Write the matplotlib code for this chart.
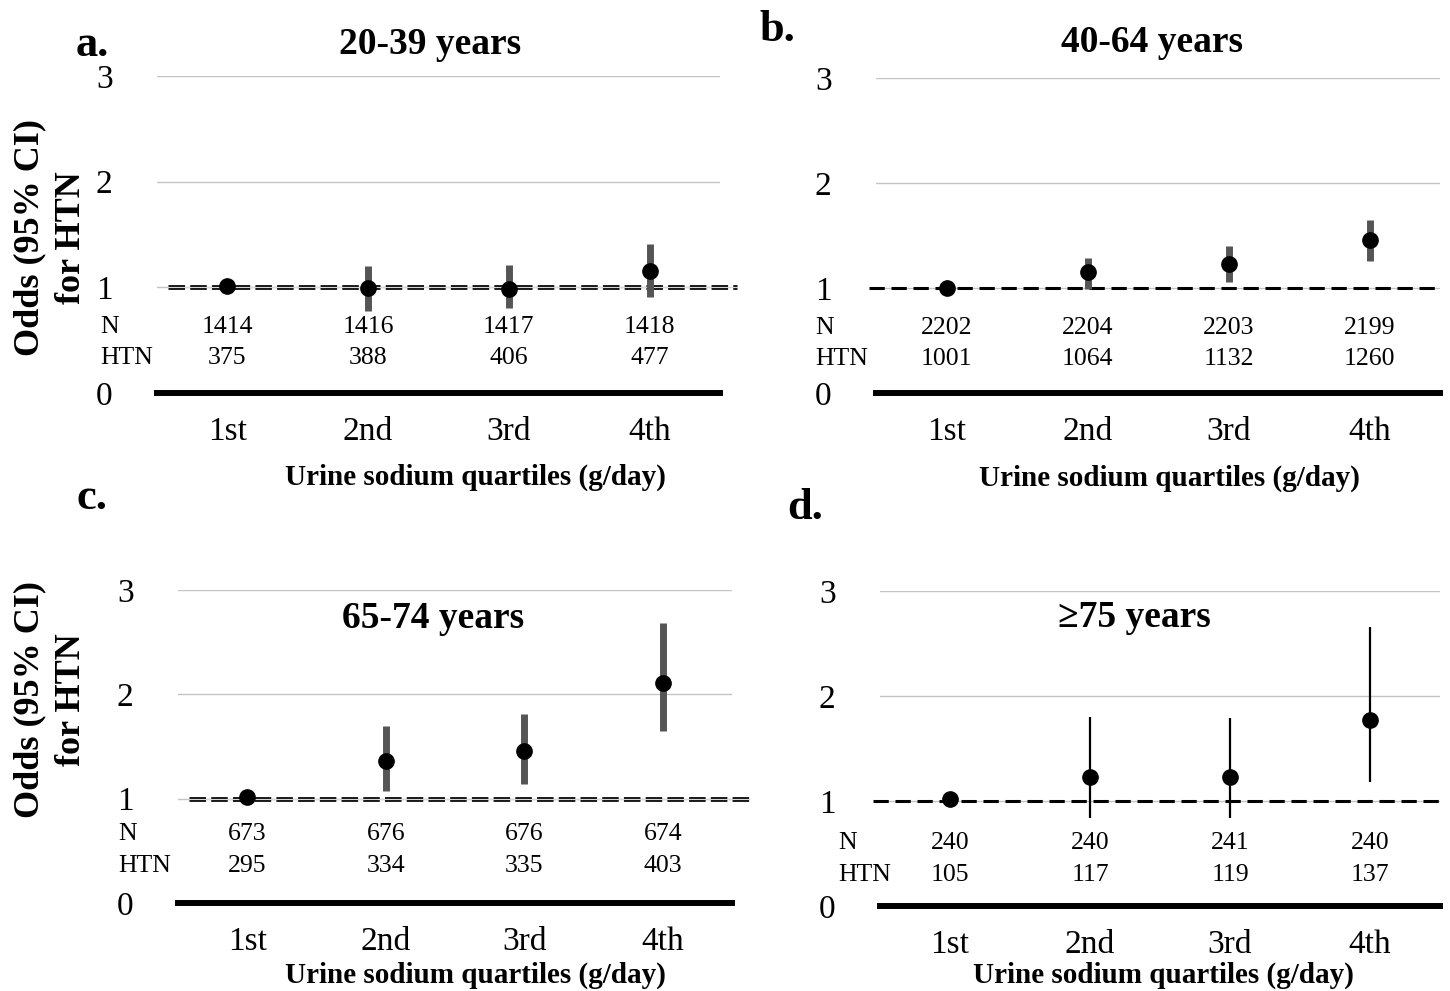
import numpy as np
import matplotlib
matplotlib.use('Agg')
import matplotlib.pyplot as plt
import matplotlib.transforms as mtransforms

plt.rcParams['font.family'] = ['Liberation Serif', 'DejaVu Serif']

quartiles = ['1st', '2nd', '3rd', '4th']

titles = ['20-39 years', '40-64 years', '65-74 years', '\u226575 years']
letters = ['a.', 'b.', 'c.', 'd.']

# odds ratio, lower and upper 95% CI per age group
or_a = [1.01, 0.99, 0.98, 1.15]
lo_a = [1.01, 0.78, 0.80, 0.91]
hi_a = [1.01, 1.20, 1.21, 1.41]

or_b = [1.00, 1.15, 1.23, 1.46]
lo_b = [1.00, 0.99, 1.06, 1.26]
hi_b = [1.00, 1.29, 1.40, 1.65]

or_c = [1.02, 1.36, 1.46, 2.11]
lo_c = [1.02, 1.07, 1.14, 1.65]
hi_c = [1.02, 1.70, 1.81, 2.68]

or_d = [1.02, 1.23, 1.23, 1.77]
lo_d = [1.02, 0.84, 0.84, 1.18]
hi_d = [1.02, 1.80, 1.79, 2.66]

n_a = [1414, 1416, 1417, 1418]
htn_a = [375, 388, 406, 477]
n_b = [2202, 2204, 2203, 2199]
htn_b = [1001, 1064, 1132, 1260]
n_c = [673, 676, 676, 674]
htn_c = [295, 334, 335, 403]
n_d = [240, 240, 241, 240]
htn_d = [105, 117, 119, 137]

W, H = 1450, 991
fig = plt.figure(figsize=(W / 100, H / 100), dpi=100)

def px_axes(l, r, top, bot):
    return fig.add_axes([l / W, 1 - bot / H, (r - l) / W, (bot - top) / H])

panels = [
    dict(box=(157, 720, 76, 393), ors=or_a, lo=lo_a, hi=hi_a, n=n_a, htn=htn_a,
         double=True, ecol='#555555', elw=5, title_xy=(0.485, 3.30), nx=-0.101,
         ny=(0.626, 0.332), xl=(0.565, -0.265), letter=(92, 45)),
    dict(box=(876, 1440, 78, 393), ors=or_b, lo=lo_b, hi=hi_b, n=n_b, htn=htn_b,
         double=False, ecol='#555555', elw=5, title_xy=(0.49, 3.34), nx=-0.108,
         ny=(0.62, 0.32), xl=(0.52, -0.27), letter=(777, 30)),
    dict(box=(178, 732, 590, 903), ors=or_c, lo=lo_c, hi=hi_c, n=n_c, htn=htn_c,
         double=True, ecol='#555555', elw=5, title_xy=(0.46, 2.73), nx=-0.108,
         ny=(0.66, 0.355), xl=(0.536, -0.23), letter=(92, 498)),
    dict(box=(880, 1440, 591, 906), ors=or_d, lo=lo_d, hi=hi_d, n=n_d, htn=htn_d,
         double=False, ecol='black', elw=1.6, title_xy=(0.455, 2.75), nx=-0.075,
         ny=(0.60, 0.295), xl=(0.507, -0.22), letter=(805, 508)),
]

x = np.arange(1, 5)
for i, p in enumerate(panels):
    ax = px_axes(*p['box'])
    ax.set_xlim(0.5, 4.5)
    ax.set_ylim(0, 3)
    for y in [1, 2, 3]:
        ax.axhline(y, color='#c4c4c4', lw=1, zorder=0)
    if p['double']:
        ax.plot([0.58, 4.62], [1, 1], color='black', lw=3.4, dashes=(3.5, 1.1),
                zorder=1, clip_on=False, solid_capstyle='butt')
        ax.plot([0.58, 4.62], [1, 1], color='#d8d8d8', lw=0.9, zorder=1.5, clip_on=False)
    else:
        ax.plot([0.45, 4.5], [1, 1], color='black', lw=2.2, dashes=(5, 2.2),
                zorder=1, clip_on=False)
    ors = np.array(p['ors'])
    err = np.array([ors - np.array(p['lo']), np.array(p['hi']) - ors])
    ax.errorbar(x, ors, yerr=err, fmt='none', ecolor=p['ecol'], elinewidth=p['elw'],
                capsize=0, zorder=2)
    ax.plot(x, ors, 'o', color='black', ms=11, zorder=3)

    for s in ['top', 'left', 'right']:
        ax.spines[s].set_visible(False)
    ax.spines['bottom'].set_linewidth(4.3)
    ax.set_yticks([0, 1, 2, 3])
    ax.set_xticks(x)
    ax.set_xticklabels(quartiles)
    ax.tick_params(axis='both', length=0, labelsize=24)
    ax.tick_params(axis='y', pad=32)
    ax.tick_params(axis='x', pad=17)

    ax.set_xlabel('Urine sodium quartiles (g/day)', fontsize=21, fontweight='bold')
    ax.xaxis.label.set_va('center')
    ax.xaxis.set_label_coords(*p['xl'])

    tr = mtransforms.blended_transform_factory(ax.transAxes, ax.transData)
    tx, ty = p['title_xy']
    ax.text(tx, ty, titles[i], transform=tr, ha='center', va='center',
            fontsize=27, fontweight='bold', clip_on=False)

    ax.text(p['nx'], p['ny'][0], 'N', transform=tr, ha='left', va='center', fontsize=18.5)
    ax.text(p['nx'], p['ny'][1], 'HTN', transform=tr, ha='left', va='center', fontsize=18.5)
    for j in range(4):
        ax.text(x[j], p['ny'][0], str(p['n'][j]), ha='center', va='center', fontsize=18.5)
        ax.text(x[j], p['ny'][1], str(p['htn'][j]), ha='center', va='center', fontsize=18.5)

    lx, ly = p['letter']
    fig.text(lx / W, 1 - ly / H, letters[i], ha='center', va='center',
             fontsize=32, fontweight='bold')

for yc in [238, 700]:
    fig.text(30 / W, 1 - yc / H, 'Odds (95% CI)', rotation=90, ha='center', va='center',
             fontsize=26, fontweight='bold')
    fig.text(72 / W, 1 - yc / H, 'for HTN', rotation=90, ha='center', va='center',
             fontsize=26, fontweight='bold')

fig.savefig('out.png', dpi=100)
